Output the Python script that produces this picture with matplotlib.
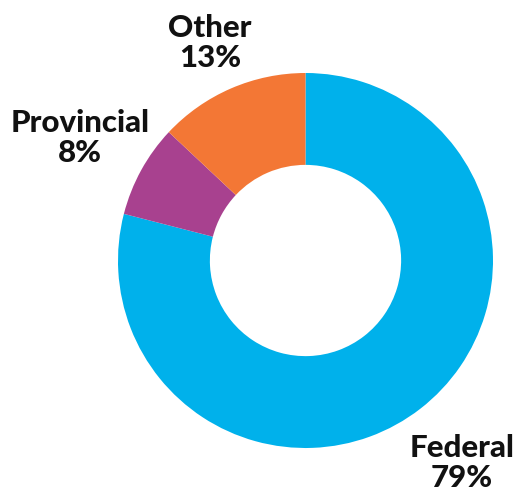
import matplotlib
matplotlib.use("Agg")
import matplotlib.pyplot as plt

labels = ["Federal", "Provincial", "Other"]
values = [79, 8, 13]
colors = ["#00B1EB", "#A8418F", "#F37735"]

fig = plt.figure(figsize=(5.17, 4.94), dpi=100)
ax = fig.add_axes([118/517, (494-448)/494, 375/517, 375/494])
ax.pie(values, colors=colors, startangle=90, counterclock=False,
       radius=1.0, wedgeprops=dict(width=0.49, linewidth=0))
ax.set_xlim(-1, 1)
ax.set_ylim(-1, 1)
ax.set_aspect("equal")
ax.axis("off")

def px(x, y):
    return (x - 305.5) / 187.5, (260.5 - y) / 187.5

positions = [px(462, 463), px(80, 138), px(210, 43)]
for lab, v, (x, y) in zip(labels, values, positions):
    ax.text(x, y, f"{lab}\n{v}%", ha="center", va="center", fontsize=22.5,
            family=["Lato", "DejaVu Sans"], weight="black", linespacing=1.08,
            clip_on=False, color="#111111")

fig.savefig("out.png", dpi=100)
